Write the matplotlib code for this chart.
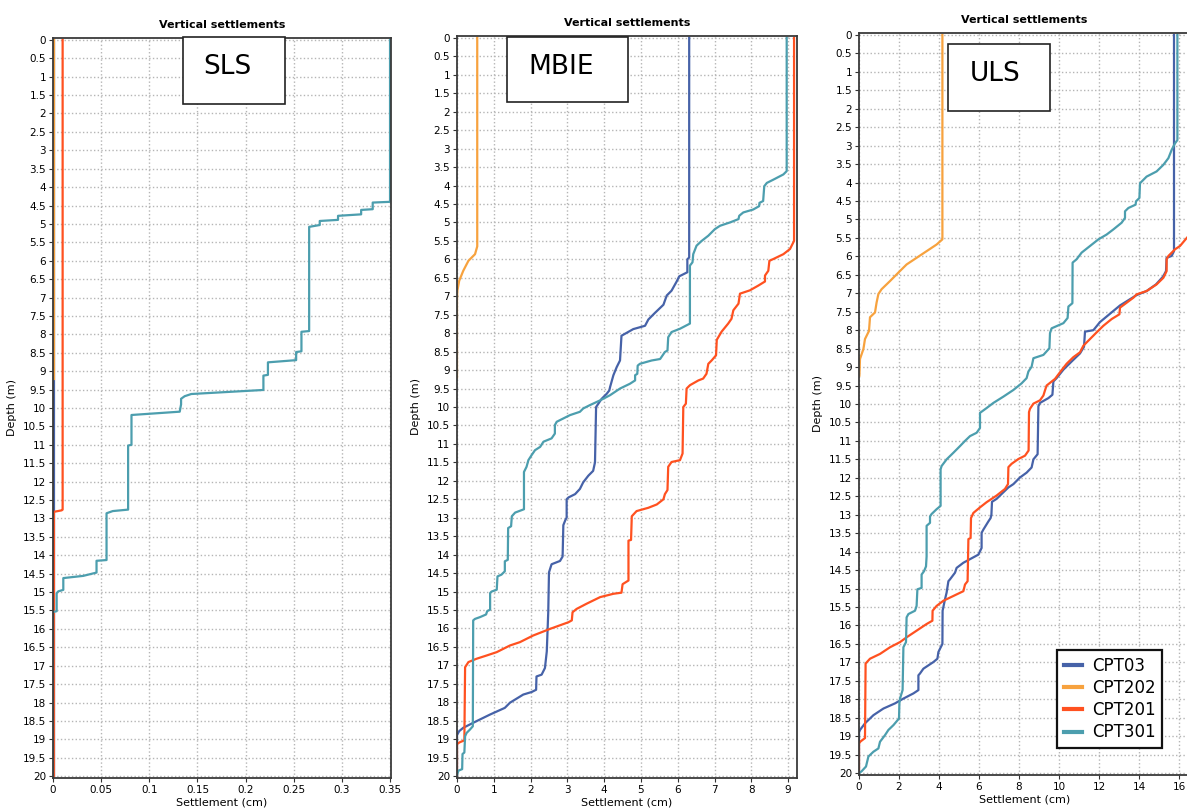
import numpy as np
import matplotlib
matplotlib.use('Agg')
import matplotlib.pyplot as plt
from matplotlib.patches import Rectangle
from matplotlib.ticker import MultipleLocator, FormatStrFormatter

# ---- data: (settlement cm, depth m) ----
series_names = ["CPT03", "CPT202", "CPT201", "CPT301"]
series_colors = ["#4662a8", "#f7a23e", "#ff5120", "#4c9eae"]

# SLS
sls_cpt03 = [(0.0008, 0), (0.0008, 20)]
sls_cpt202 = [(0.0008, 0), (0.0008, 9.2)]
sls_cpt201 = [(0.010, 0), (0.010, 12.76), (0.009, 12.78), (0.001, 12.82), (0.001, 20)]
sls_cpt301 = [(0.35, 0), (0.35, 4.40), (0.332, 4.42), (0.332, 4.60), (0.320, 4.62), (0.320, 4.74),
              (0.296, 4.78), (0.296, 4.89), (0.277, 4.92), (0.277, 5.03), (0.266, 5.08), (0.266, 7.91),
              (0.258, 7.93), (0.258, 8.46), (0.2525, 8.48), (0.2525, 8.70), (0.2232, 8.76), (0.2232, 9.10),
              (0.2185, 9.12), (0.2185, 9.51), (0.1436, 9.62), (0.1367, 9.68), (0.133, 9.75), (0.133, 9.9),
              (0.1316, 10.1), (0.0815, 10.19), (0.0815, 11.0), (0.078, 11.02), (0.078, 12.76), (0.062, 12.8),
              (0.0556, 12.86), (0.0556, 14.13), (0.0452, 14.15), (0.0452, 14.47), (0.0314, 14.56),
              (0.0107, 14.62), (0.0107, 14.94), (0.0055, 14.98), (0.0038, 15.03), (0.0038, 15.52),
              (0.0, 15.54), (0.0, 20)]

# MBIE
mbie_cpt03 = [(6.31, 0), (6.31, 5.95), (6.26, 6.0), (6.26, 6.35), (6.04, 6.46), (5.97, 6.6), (5.83, 6.85),
              (5.70, 6.98), (5.61, 7.23), (5.38, 7.45), (5.20, 7.63), (5.11, 7.80), (4.79, 7.89), (4.47, 8.07),
              (4.43, 8.74), (4.34, 8.92), (4.25, 9.14), (4.16, 9.46), (4.14, 9.55), (4.07, 9.64), (3.93, 9.78),
              (3.78, 10.0), (3.75, 11.5), (3.70, 11.73), (3.57, 11.86), (3.43, 12.04), (3.34, 12.22),
              (3.21, 12.36), (3.03, 12.45), (2.98, 12.5), (2.98, 13.0), (2.95, 13.05), (2.89, 13.2),
              (2.87, 14.05), (2.80, 14.17), (2.57, 14.26), (2.50, 14.48), (2.48, 15.55), (2.44, 16.62),
              (2.39, 17.07), (2.30, 17.25), (2.16, 17.3), (2.15, 17.66), (2.03, 17.72), (1.80, 17.79),
              (1.44, 18.01), (1.30, 18.15), (0.90, 18.33), (0.53, 18.51), (0.17, 18.69), (0.06, 18.78),
              (0.01, 18.87), (0, 18.9), (0, 20)]
mbie_cpt202 = [(0.55, 0), (0.55, 5.65), (0.49, 5.86), (0.31, 6.04), (0.17, 6.31), (0.06, 6.58),
               (0.01, 6.85), (0, 7.1), (0, 9.2)]
mbie_cpt201 = [(9.16, 0), (9.16, 5.5), (9.05, 5.72), (8.87, 5.86), (8.6, 5.99), (8.49, 6.04), (8.46, 6.31),
               (8.37, 6.44), (8.37, 6.6), (8.19, 6.71), (7.96, 6.84), (7.69, 6.93), (7.65, 7.2), (7.51, 7.38),
               (7.46, 7.61), (7.37, 7.74), (7.19, 7.96), (7.06, 8.18), (7.04, 8.6), (6.92, 8.74), (6.83, 8.83),
               (6.78, 9.1), (6.69, 9.23), (6.56, 9.28), (6.33, 9.41), (6.24, 9.5), (6.22, 9.91), (6.15, 10.0),
               (6.13, 11.26), (6.06, 11.44), (5.83, 11.49), (5.74, 11.62), (5.72, 12.25), (5.65, 12.36),
               (5.61, 12.5), (5.43, 12.64), (5.2, 12.73), (4.88, 12.82), (4.75, 12.96), (4.73, 13.6),
               (4.66, 13.62), (4.66, 14.7), (4.5, 14.8), (4.47, 15.03), (4.25, 15.06), (3.89, 15.15),
               (3.52, 15.33), (3.25, 15.47), (3.14, 15.56), (3.12, 15.78), (3.03, 15.83), (2.53, 16.01),
               (2.07, 16.19), (1.71, 16.37), (1.44, 16.46), (1.08, 16.64), (0.81, 16.73), (0.53, 16.82),
               (0.31, 16.91), (0.22, 17.05), (0.2, 19.03), (0.08, 19.08), (0.01, 19.12), (0, 19.15), (0, 20)]
mbie_cpt301 = [(8.96, 0), (8.96, 3.61), (8.87, 3.7), (8.6, 3.84), (8.42, 3.93), (8.35, 4.02), (8.32, 4.42),
               (8.22, 4.47), (8.21, 4.56), (8.05, 4.65), (7.78, 4.73), (7.67, 4.82), (7.65, 4.91), (7.42, 5.0),
               (7.15, 5.09), (7.01, 5.18), (6.83, 5.36), (6.65, 5.5), (6.51, 5.63), (6.42, 5.86), (6.40, 6.08),
               (6.33, 6.17), (6.33, 7.74), (6.06, 7.88), (5.83, 7.97), (5.74, 8.11), (5.72, 8.47), (5.65, 8.51),
               (5.52, 8.7), (5.29, 8.74), (4.97, 8.83), (4.91, 8.88), (4.9, 9.1), (4.84, 9.14), (4.84, 9.28),
               (4.7, 9.37), (4.43, 9.5), (4.16, 9.68), (3.89, 9.82), (3.61, 9.95), (3.43, 10.04), (3.34, 10.13),
               (3.07, 10.22), (2.71, 10.4), (2.66, 10.49), (2.66, 10.72), (2.57, 10.85), (2.35, 10.94),
               (2.26, 11.08), (2.12, 11.17), (2.03, 11.3), (1.94, 11.44), (1.89, 11.62), (1.82, 11.76),
               (1.82, 12.77), (1.58, 12.86), (1.49, 12.96), (1.47, 13.23), (1.39, 13.28), (1.38, 14.14),
               (1.3, 14.18), (1.3, 14.45), (1.21, 14.54), (1.1, 14.59), (1.08, 14.95), (0.94, 15.0),
               (0.9, 15.04), (0.9, 15.49), (0.82, 15.53), (0.79, 15.62), (0.63, 15.69), (0.49, 15.74),
               (0.44, 15.78), (0.43, 18.65), (0.35, 18.74), (0.26, 18.83), (0.22, 18.92), (0.2, 19.36),
               (0.15, 19.4), (0.14, 19.81), (0.04, 19.85), (0.01, 19.94), (0, 20)]

# ULS
uls_cpt03 = [(15.75, 0), (15.75, 5.86), (15.63, 5.99), (15.38, 6.04), (15.35, 6.4), (15.2, 6.55),
             (14.85, 6.76), (14.38, 6.94), (13.88, 7.05), (13.05, 7.33), (12.05, 7.78), (11.72, 8.0),
             (11.3, 8.04), (11.25, 8.45), (11.05, 8.63), (10.63, 8.85), (10.22, 9.07), (9.88, 9.3),
             (9.72, 9.39), (9.67, 9.75), (9.47, 9.84), (9.05, 9.97), (8.97, 10.06), (8.93, 11.36),
             (8.72, 11.5), (8.63, 11.72), (8.38, 11.86), (8.05, 11.99), (7.72, 12.17), (7.47, 12.26),
             (7.05, 12.48), (6.88, 12.57), (6.65, 12.65), (6.62, 13.0), (6.58, 13.09), (6.47, 13.18),
             (6.22, 13.4), (6.13, 13.49), (6.13, 13.9), (5.97, 14.08), (5.22, 14.3), (4.88, 14.44),
             (4.8, 14.57), (4.55, 14.75), (4.47, 14.8), (4.38, 15.11), (4.3, 15.29), (4.18, 15.6),
             (4.17, 16.5), (4.05, 16.63), (3.97, 16.72), (3.92, 16.9), (3.72, 16.99), (3.22, 17.17),
             (3.05, 17.3), (2.97, 17.35), (2.97, 17.75), (2.72, 17.84), (2.22, 17.98), (1.8, 18.11),
             (1.22, 18.25), (0.72, 18.43), (0.3, 18.65), (0.05, 18.83), (0, 18.9), (0, 20)]
uls_cpt202 = [(4.17, 0), (4.17, 5.54), (3.88, 5.68), (3.38, 5.86), (2.88, 6.04), (2.38, 6.22), (1.97, 6.44),
              (1.55, 6.67), (1.13, 6.89), (0.97, 7.02), (0.88, 7.25), (0.8, 7.52), (0.55, 7.65), (0.5, 8.02),
              (0.3, 8.24), (0.22, 8.51), (0.05, 8.78), (0.02, 9.23)]
uls_cpt201 = [(16.9, 0), (16.9, 5.2), (16.39, 5.5), (16.05, 5.72), (15.8, 5.81), (15.47, 5.99),
              (15.38, 6.08), (15.38, 6.4), (15.22, 6.58), (14.88, 6.76), (14.38, 6.94), (13.88, 7.03),
              (13.72, 7.12), (13.05, 7.39), (13.02, 7.57), (12.63, 7.7), (12.22, 7.88), (11.88, 8.06),
              (11.55, 8.24), (11.22, 8.42), (11.05, 8.6), (10.72, 8.73), (10.38, 8.91), (10.05, 9.14),
              (9.8, 9.32), (9.38, 9.5), (9.3, 9.63), (9.22, 9.77), (9.05, 9.9), (8.72, 9.99), (8.55, 10.13),
              (8.5, 10.22), (8.48, 11.26), (8.3, 11.4), (7.97, 11.49), (7.63, 11.62), (7.47, 11.71),
              (7.45, 12.17), (7.3, 12.3), (6.88, 12.48), (6.38, 12.66), (6.05, 12.8), (5.72, 12.95),
              (5.6, 13.09), (5.58, 13.63), (5.47, 13.66), (5.43, 14.8), (5.3, 14.89), (5.22, 15.07),
              (4.72, 15.2), (4.22, 15.33), (3.88, 15.47), (3.68, 15.6), (3.67, 15.87), (3.38, 15.96),
              (2.88, 16.14), (2.38, 16.32), (2.05, 16.45), (1.55, 16.59), (1.05, 16.77), (0.55, 16.9),
              (0.33, 17.03), (0.3, 19.05), (0.08, 19.14), (0.02, 19.18), (0, 19.2), (0, 20)]
uls_cpt301 = [(15.92, 0), (15.92, 2.85), (15.8, 2.94), (15.63, 3.12), (15.47, 3.34), (15.22, 3.52),
              (14.88, 3.7), (14.38, 3.84), (14.05, 4.02), (14.02, 4.42), (13.85, 4.51), (13.83, 4.6),
              (13.47, 4.69), (13.3, 4.78), (13.3, 4.96), (13.13, 5.09), (12.72, 5.27), (12.38, 5.41),
              (11.97, 5.54), (11.55, 5.72), (11.13, 5.9), (10.88, 6.08), (10.68, 6.17), (10.67, 7.27),
              (10.47, 7.36), (10.43, 7.67), (10.22, 7.81), (9.63, 7.95), (9.55, 8.08), (9.52, 8.49),
              (9.22, 8.67), (8.72, 8.76), (8.63, 8.99), (8.47, 9.12), (8.38, 9.3), (8.13, 9.44), (7.72, 9.62),
              (7.22, 9.8), (6.72, 9.97), (6.38, 10.11), (6.05, 10.24), (6.05, 10.65), (5.88, 10.78),
              (5.55, 10.87), (5.3, 11.0), (5.05, 11.14), (4.72, 11.32), (4.38, 11.5), (4.13, 11.68),
              (4.08, 11.77), (4.08, 12.76), (3.88, 12.85), (3.63, 12.98), (3.55, 13.05), (3.55, 13.22),
              (3.38, 13.3), (3.38, 14.13), (3.35, 14.4), (3.25, 14.53), (3.13, 14.62), (3.13, 14.98),
              (2.92, 15.02), (2.88, 15.47), (2.8, 15.6), (2.47, 15.69), (2.38, 15.78), (2.35, 16.45),
              (2.22, 16.59), (2.18, 17.75), (2.05, 17.98), (2.02, 18.11), (2.0, 18.52), (1.72, 18.7),
              (1.47, 18.83), (1.3, 18.97), (1.05, 19.15), (0.97, 19.33), (0.72, 19.42), (0.47, 19.55),
              (0.35, 19.82), (0.13, 19.95), (0, 20)]

panel_labels = ["SLS", "MBIE", "ULS"]
panel_series = [
    [sls_cpt03, sls_cpt202, sls_cpt201, sls_cpt301],
    [mbie_cpt03, mbie_cpt202, mbie_cpt201, mbie_cpt301],
    [uls_cpt03, uls_cpt202, uls_cpt201, uls_cpt301],
]
x_limits = [0.351, 9.24, 16.55]
x_steps = [0.05, 1, 2]

# ---- layout (pixels in a 1187x808 picture) ----
W, H = 1187, 808
axes_px = [(53, 38, 391, 778), (457, 36, 797, 778), (859, 33, 1190, 775)]
box_px = [(183, 37, 285, 104), (507, 37, 628, 102), (948, 44, 1050, 111)]
label_px = [(203, 67), (528, 67), (970, 74)]

plt.rcParams['font.family'] = ['DejaVu Sans']
fig = plt.figure(figsize=(W / 100, H / 100), dpi=100)

for i in range(3):
    l, t, r, b = axes_px[i]
    ax = fig.add_axes([l / W, 1 - b / H, (r - l) / W, (b - t) / H])
    for pts, name, col in zip(panel_series[i], series_names, series_colors):
        pts = np.array(pts)
        ax.plot(pts[:, 0], pts[:, 1], color=col, lw=1.6, label=name)

    ax.set_xlim(0, x_limits[i])
    ax.set_ylim(20.05, -0.05)
    ax.xaxis.set_major_locator(MultipleLocator(x_steps[i]))
    ax.yaxis.set_major_locator(MultipleLocator(0.5))
    ax.xaxis.set_major_formatter(FormatStrFormatter('%g'))
    ax.yaxis.set_major_formatter(FormatStrFormatter('%g'))
    ax.tick_params(labelsize=7.5, length=3, width=0.8, color='#333333', pad=2)
    ax.grid(True, color='#b5b5b5', linestyle=':', linewidth=1.0)
    for s in ax.spines.values():
        s.set_color('#3a3a3a')
        s.set_linewidth(1.3)

    ax.set_title("Vertical settlements", fontsize=8, fontweight='bold', pad=7)
    ax.set_ylabel("Depth (m)", fontsize=8, labelpad=4)
    ax.set_xlabel("Settlement (cm)", fontsize=8, labelpad=2)

    # label boxes
    bl, bt, br, bb = box_px[i]
    fig.add_artist(Rectangle((bl / W, 1 - bb / H), (br - bl) / W, (bb - bt) / H,
                             transform=fig.transFigure, facecolor='white',
                             edgecolor='#222222', linewidth=1.2, zorder=10))
    tx, ty = label_px[i]
    fig.text(tx / W, 1 - ty / H, panel_labels[i], fontsize=19, ha='left', va='center', zorder=11)

    if i == 2:
        leg = ax.legend(loc='lower left', bbox_to_anchor=(1057 / W, 1 - 748 / H),
                        bbox_transform=fig.transFigure, borderaxespad=0, fontsize=12,
                        handlelength=1.1, handletextpad=0.6, labelspacing=0.25,
                        fancybox=False, framealpha=1, edgecolor='#111111')
        leg.get_frame().set_linewidth(1.6)
        for h in leg.get_lines():
            h.set_linewidth(3)

fig.savefig("out.png", dpi=100)
